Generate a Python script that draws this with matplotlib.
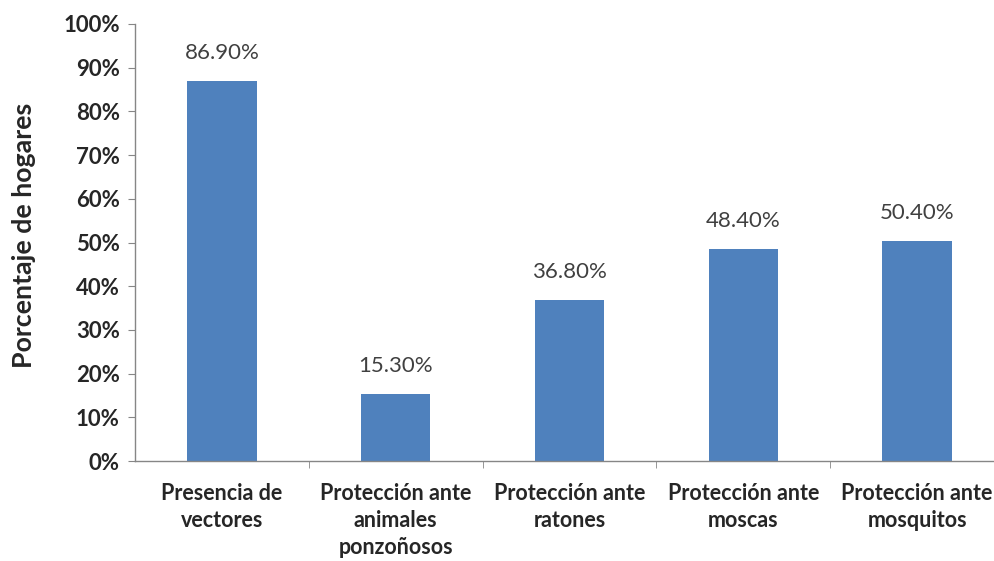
import matplotlib
matplotlib.use("Agg")
import matplotlib.pyplot as plt
from matplotlib.ticker import FixedLocator, FuncFormatter

categories = ["Presencia de\nvectores", "Protección ante\nanimales\nponzoñosos",
              "Protección ante\nratones", "Protección ante\nmoscas", "Protección ante\nmosquitos"]
values = [86.9, 15.3, 36.8, 48.4, 50.4]
value_labels = ["86.90%", "15.30%", "36.80%", "48.40%", "50.40%"]
yticks = [0, 10, 20, 30, 40, 50, 60, 70, 80, 90, 100]

plt.rcParams['font.family'] = ['Lato', 'DejaVu Sans']

fig = plt.figure(figsize=(9.95, 5.61), dpi=100)
ax = fig.add_axes([135/995, 1 - 461/561, (1004 - 135)/995, (461 - 24)/561])

x = list(range(len(categories)))
bars = ax.bar(x, values, width=0.4, color="#4F81BD", zorder=2)

for xi, v, lab in zip(x, values, value_labels):
    ax.annotate(lab, (xi, v), xytext=(0, 18), textcoords="offset pixels",
                ha="center", va="bottom", fontsize=16, color="#404040")

ax.set_xlim(-0.5, 4.5)
ax.set_ylim(0, 100)
ax.set_yticks(yticks)
ax.yaxis.set_major_formatter(FuncFormatter(lambda v, p: f"{int(v)}%"))
for lbl in ax.get_yticklabels():
    lbl.set_fontweight("bold")
ax.tick_params(axis="y", labelsize=16, length=5, color="#868686", labelcolor="#262626", pad=6)

ax.set_xticks(x)
ax.set_xticklabels(categories, fontsize=15.5, fontweight="bold", color="#262626", linespacing=1.36)
ax.tick_params(axis="x", which="major", length=0, pad=16)
ax.xaxis.set_minor_locator(FixedLocator([0.5, 1.5, 2.5, 3.5]))
ax.tick_params(axis="x", which="minor", length=5, color="#868686")

for s in ["top", "right"]:
    ax.spines[s].set_visible(False)
for s in ["left", "bottom"]:
    ax.spines[s].set_color("#868686")
    ax.spines[s].set_linewidth(1.0)

ax.set_ylabel("Porcentaje de hogares", fontsize=19.3, fontweight="bold", color="#262626")
ax.yaxis.set_label_coords(-(135 - 36) / 869, (461 - 235) / 437)

fig.savefig("out.png", dpi=100)
